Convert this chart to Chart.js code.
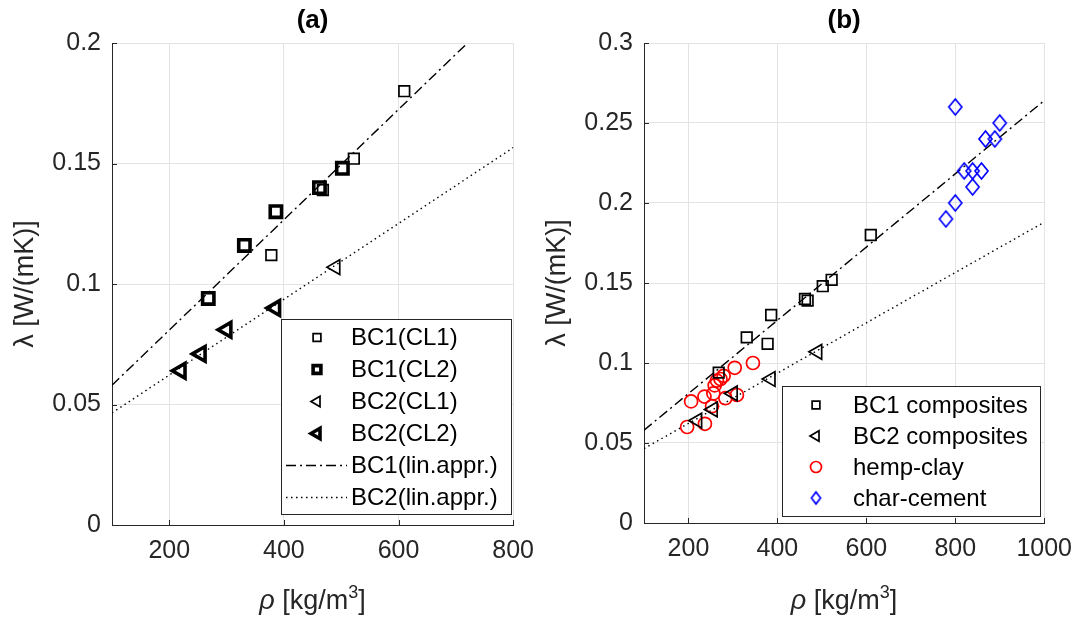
<!DOCTYPE html>
<html>
<head>
<meta charset="utf-8">
<title>Thermal conductivity vs density</title>
<script src="https://cdn.jsdelivr.net/npm/chart.js@4.4.1/dist/chart.umd.min.js"></script>
<style>
    html, body { margin: 0; padding: 0; background: #fff; }
    #wrap { position: relative; width: 1083px; height: 624px; overflow: hidden; }
    .panel { position: absolute; top: 0; }
    #panelA { left: 0; }
    #panelB { left: 545px; }
</style>
</head>
<body>
<div id="wrap">
    <div class="panel" id="panelA"><canvas id="chartA" width="545" height="624"></canvas></div>
    <div class="panel" id="panelB"><canvas id="chartB" width="538" height="624"></canvas></div>
</div>
<script>
// Data
const bc1Cl1X = [378, 468, 522, 610];
const bc1Cl1Y = [0.112, 0.139, 0.152, 0.180];
const bc1Cl2X = [268, 331, 386, 462, 502];
const bc1Cl2Y = [0.094, 0.116, 0.130, 0.140, 0.148];
const bc2Cl1X = [490];
const bc2Cl1Y = [0.107];
const bc2Cl2X = [220, 255, 300, 385];
const bc2Cl2Y = [0.064, 0.071, 0.081, 0.090];

const hempX = [197, 206, 237, 236, 253, 256, 259, 264, 272, 279, 283, 304, 309, 345];
const hempY = [0.060, 0.076, 0.062, 0.079, 0.073, 0.081, 0.086, 0.089, 0.090, 0.092, 0.078, 0.097, 0.080, 0.100];
const charX = [779, 800, 800, 820, 839, 839, 859, 868, 889, 900];
const charY = [0.190, 0.200, 0.260, 0.220, 0.220, 0.210, 0.220, 0.240, 0.240, 0.250];

// linear approximations (end points)
const fitX = [100, 1000];
const bc1FitY = [0.058, 0.264];
const bc2FitY = [0.0465, 0.188];

const xTicksA = [200, 400, 600, 800];
const xTicksB = [200, 400, 600, 800, 1000];
const yTicksA = [0, 0.05, 0.1, 0.15, 0.2];
const yLabelsA = ['0', '0.05', '0.1', '0.15', '0.2'];
const yTicksB = [0, 0.05, 0.1, 0.15, 0.2, 0.25, 0.3];
const yLabelsB = ['0', '0.05', '0.1', '0.15', '0.2', '0.25', '0.3'];

const FONT = '"Liberation Sans", Arial, sans-serif';
const textColor = '#262626';
const gridColor = '#e3e3e3';

let charts = { a: null, b: null };

function toPoints(xs, ys) {
    return xs.map((x, i) => ({ x: x, y: ys[i] }));
}

function makeDiamond(w, h, color, lw) {
    const c = document.createElement('canvas');
    c.width = Math.ceil(w + lw * 2 + 2);
    c.height = Math.ceil(h + lw * 2 + 2);
    const g = c.getContext('2d');
    const cx = c.width / 2, cy = c.height / 2;
    g.strokeStyle = color;
    g.lineWidth = lw;
    g.beginPath();
    g.moveTo(cx, cy - h / 2);
    g.lineTo(cx + w / 2, cy);
    g.lineTo(cx, cy + h / 2);
    g.lineTo(cx - w / 2, cy);
    g.closePath();
    g.stroke();
    return c;
}

const diamondPlot = makeDiamond(13, 16, '#0000ff', 1.7);
const diamondLegend = makeDiamond(9, 12, '#0000ff', 1.7);

function pointSet(label, xs, ys, style) {
    return Object.assign({
        label: label,
        data: toPoints(xs, ys),
        showLine: false,
        backgroundColor: 'rgba(0,0,0,0)',
        borderColor: '#000',
        pointBorderColor: style.color || '#000',
        pointBackgroundColor: 'rgba(0,0,0,0)'
    }, style);
}

function fitSet(label, ys, dash) {
    return {
        label: label,
        data: toPoints(fitX, ys),
        showLine: true,
        borderColor: '#000',
        borderWidth: 1.4,
        borderDash: dash,
        pointRadius: 0,
        fill: false
    };
}

// titles, axis titles, inward ticks and the boxed legend
const panelDeco = {
    id: 'panelDeco',
    afterDraw(chart, args, opts) {
        const ctx = chart.ctx;
        const area = chart.chartArea;
        const xs = chart.scales.x, ys = chart.scales.y;
        const midX = (area.left + area.right) / 2;
        ctx.save();

        // small inward tick marks
        ctx.strokeStyle = textColor;
        ctx.lineWidth = 1;
        ctx.beginPath();
        xs.ticks.forEach(t => {
            const px = Math.round(xs.getPixelForValue(t.value)) + 0.5;
            ctx.moveTo(px, area.bottom);
            ctx.lineTo(px, area.bottom - 5);
        });
        ys.ticks.forEach(t => {
            const py = Math.round(ys.getPixelForValue(t.value)) + 0.5;
            ctx.moveTo(area.left, py);
            ctx.lineTo(area.left + 5, py);
        });
        ctx.stroke();

        // panel title
        ctx.fillStyle = '#000';
        ctx.textAlign = 'center';
        ctx.textBaseline = 'middle';
        ctx.font = 'bold 26px ' + FONT;
        ctx.fillText(opts.title, midX, 21);

        // y axis title
        ctx.fillStyle = textColor;
        ctx.save();
        ctx.translate(area.left - 86, (area.top + area.bottom) / 2);
        ctx.rotate(-Math.PI / 2);
        ctx.font = '27px ' + FONT;
        ctx.fillText('\u03bb [W/(mK)]', 0, 0);
        ctx.restore();

        // x axis title with superscript
        ctx.textAlign = 'left';
        ctx.textBaseline = 'alphabetic';
        const base = 609;
        ctx.font = 'italic 27px ' + FONT;
        const wRho = ctx.measureText('\u03c1').width;
        ctx.font = '27px ' + FONT;
        const wMain = ctx.measureText(' [kg/m').width;
        const wClose = ctx.measureText(']').width;
        ctx.font = '18px ' + FONT;
        const wSup = ctx.measureText('3').width;
        let x0 = midX - (wRho + wMain + wSup + wClose) / 2;
        ctx.font = 'italic 27px ' + FONT;
        ctx.fillText('\u03c1', x0, base);
        x0 += wRho;
        ctx.font = '27px ' + FONT;
        ctx.fillText(' [kg/m', x0, base);
        x0 += wMain;
        ctx.font = '18px ' + FONT;
        ctx.fillText('3', x0, base - 11);
        x0 += wSup;
        ctx.font = '27px ' + FONT;
        ctx.fillText(']', x0, base);

        // legend
        const lg = opts.legend;
        ctx.fillStyle = '#fff';
        ctx.fillRect(lg.left, lg.top, lg.width, lg.height);
        ctx.strokeStyle = '#262626';
        ctx.lineWidth = 1;
        ctx.strokeRect(lg.left + 0.5, lg.top + 0.5, lg.width, lg.height);
        ctx.font = '24px ' + FONT;
        ctx.textBaseline = 'middle';
        lg.items.forEach((item, i) => {
            const ds = chart.data.datasets[item.dataset];
            const y = lg.top + lg.firstRow + i * lg.rowStep;
            if (ds.showLine) {
                ctx.strokeStyle = '#000';
                ctx.lineWidth = ds.borderWidth;
                ctx.setLineDash(ds.borderDash || []);
                ctx.beginPath();
                ctx.moveTo(lg.left + lg.lineFrom, y);
                ctx.lineTo(lg.left + lg.lineTo, y);
                ctx.stroke();
                ctx.setLineDash([]);
            } else {
                ctx.strokeStyle = ds.pointBorderColor;
                ctx.fillStyle = 'rgba(0,0,0,0)';
                ctx.lineWidth = ds.pointBorderWidth;
                Chart.helpers.drawPoint(ctx, {
                    pointStyle: item.image || ds.pointStyle,
                    rotation: ds.pointRotation || 0,
                    radius: item.radius,
                    borderWidth: ds.pointBorderWidth
                }, lg.left + lg.markerX, y);
            }
            ctx.fillStyle = '#000';
            ctx.fillText(item.label, lg.left + lg.textX, y + 1);
        });
        ctx.restore();
    }
};

function axisConfig(min, max, ticks, labels, size) {
    return {
        type: 'linear',
        min: min,
        max: max,
        afterBuildTicks: s => { s.ticks = ticks.map(v => ({ value: v })); },
        afterFit: s => { if (s.axis === 'x') { s.height = size; } else { s.width = size; } },
        grid: { color: gridColor, lineWidth: 1, drawTicks: false },
        border: { color: textColor, width: 1 },
        ticks: {
            color: textColor,
            font: { family: FONT, size: 25 },
            padding: 11,
            autoSkip: false,
            maxRotation: 0,
            callback: v => labels ? labels[ticks.indexOf(v)] : String(v)
        }
    };
}

function baseOptions(padRight, xAxis, yAxis) {
    return {
        responsive: false,
        animation: false,
        events: [],
        layout: { padding: { left: 0, right: padRight, top: 43, bottom: 0 } },
        plugins: { legend: { display: false }, tooltip: { enabled: false } },
        scales: { x: xAxis, y: yAxis }
    };
}

// Panel (a): the two biochar composites by clay type
function buildPanelA() {
    const ctx = document.getElementById('chartA');
    const datasets = [
        pointSet('BC1(CL1)', bc1Cl1X, bc1Cl1Y, { pointStyle: 'rect', pointRadius: 7.5, pointBorderWidth: 1.7 }),
        pointSet('BC1(CL2)', bc1Cl2X, bc1Cl2Y, { pointStyle: 'rect', pointRadius: 8, pointBorderWidth: 3.6 }),
        pointSet('BC2(CL1)', bc2Cl1X, bc2Cl1Y, { pointStyle: 'triangle', pointRotation: -90, pointRadius: 8.5, pointBorderWidth: 1.7 }),
        pointSet('BC2(CL2)', bc2Cl2X, bc2Cl2Y, { pointStyle: 'triangle', pointRotation: -90, pointRadius: 8.5, pointBorderWidth: 3.6 }),
        fitSet('BC1(lin.appr.)', bc1FitY, [10, 4, 2, 4]),
        fitSet('BC2(lin.appr.)', bc2FitY, [1.5, 3.5])
    ];
    const options = baseOptions(29,
        axisConfig(100, 800, xTicksA, null, 99),
        axisConfig(0, 0.2, yTicksA, yLabelsA, 112));
    options.plugins.panelDeco = {
        title: '(a)',
        legend: {
            left: 281, top: 319, width: 230, height: 195,
            firstRow: 18.5, rowStep: 32, markerX: 36, textX: 70, lineFrom: 5, lineTo: 66,
            items: [
                { label: 'BC1(CL1)', dataset: 0, radius: 5.5 },
                { label: 'BC1(CL2)', dataset: 1, radius: 5.5 },
                { label: 'BC2(CL1)', dataset: 2, radius: 6 },
                { label: 'BC2(CL2)', dataset: 3, radius: 6 },
                { label: 'BC1(lin.appr.)', dataset: 4 },
                { label: 'BC2(lin.appr.)', dataset: 5 }
            ]
        }
    };
    charts.a = new Chart(ctx, { type: 'scatter', data: { datasets }, options, plugins: [panelDeco] });
}

// Panel (b): composites compared with hemp-clay and char-cement
function buildPanelB() {
    const ctx = document.getElementById('chartB');
    const datasets = [
        pointSet('BC1 composites', bc1Cl1X.concat(bc1Cl2X), bc1Cl1Y.concat(bc1Cl2Y), { pointStyle: 'rect', pointRadius: 7.5, pointBorderWidth: 1.7 }),
        pointSet('BC2 composites', bc2Cl1X.concat(bc2Cl2X), bc2Cl1Y.concat(bc2Cl2Y), { pointStyle: 'triangle', pointRotation: -90, pointRadius: 8.5, pointBorderWidth: 1.7 }),
        pointSet('hemp-clay', hempX, hempY, { color: '#ff0000', pointStyle: 'circle', pointRadius: 6.5, pointBorderWidth: 1.7 }),
        pointSet('char-cement', charX, charY, { color: '#0000ff', pointStyle: diamondPlot, pointRadius: 8, pointBorderWidth: 1.7 }),
        fitSet('BC1 fit', bc1FitY, [10, 4, 2, 4]),
        fitSet('BC2 fit', bc2FitY, [1.5, 3.5])
    ];
    const options = baseOptions(34,
        axisConfig(100, 1000, xTicksB, null, 101),
        axisConfig(0, 0.3, yTicksB, yLabelsB, 99));
    options.plugins.panelDeco = {
        title: '(b)',
        legend: {
            left: 237, top: 386, width: 258, height: 130,
            firstRow: 19, rowStep: 31, markerX: 34, textX: 71,
            items: [
                { label: 'BC1 composites', dataset: 0, radius: 5.5 },
                { label: 'BC2 composites', dataset: 1, radius: 6 },
                { label: 'hemp-clay', dataset: 2, radius: 5.5 },
                { label: 'char-cement', dataset: 3, radius: 5, image: diamondLegend }
            ]
        }
    };
    charts.b = new Chart(ctx, { type: 'scatter', data: { datasets }, options, plugins: [panelDeco] });
}

buildPanelA();
buildPanelB();
</script>
</body>
</html>
